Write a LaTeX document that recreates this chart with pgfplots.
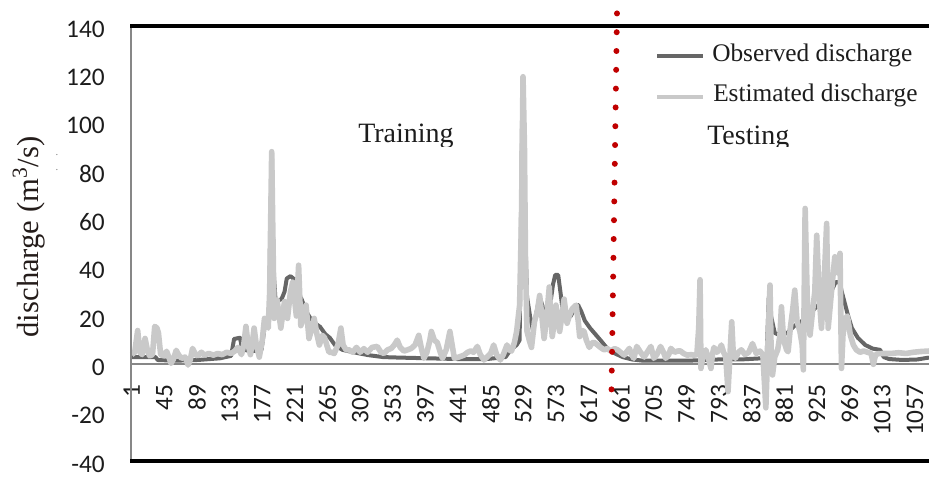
\documentclass[border=0pt]{standalone}
\usepackage{fontspec}
\setmainfont{Liberation Serif}
\newfontfamily\calibri{Carlito}
\usepackage{pgfplots}
\usepackage{pgfplotstable}
\pgfplotsset{compat=1.18}

\definecolor{obsgray}{RGB}{102,102,102}
\definecolor{estgray}{RGB}{201,201,201}
\definecolor{axgray}{RGB}{135,135,135}
\definecolor{divred}{RGB}{192,0,0}
\definecolor{labtext}{RGB}{28,28,28}
\definecolor{ylabcol}{RGB}{36,28,26}

% observed discharge (m^3/s) against day index
\pgfplotstableread{
x y
1 3
33 3
36 1.8
60 1.5
90 1.8
120 2.5
135 3.5
139 10.5
147 11
150 6
165 5.5
176 6
180 15
186 18
188 60
190 88
192 40
195 26
203 27
207 30
210 35.5
215 36.5
221 35
224 30
230 27
236 22
242 19
248 17
255 15.5
262 12.5
268 11
275 8
285 6
300 5
320 3.8
340 3
360 2.8
400 2.5
440 2.2
480 2.2
505 3
512 6
520 8
524 10
528 119
531 60
534 28
538 20
542 14
547 22
551 28
555 24
559 16
564 22
569 33
572 37
576 37
579 30
583 20
588 19
593 20
598 23
603 24.5
607 22
612 18
619 15
626 12.5
633 10
641 7
649 5
656 4
663 3
676 2
691 1.5
751 1.5
791 2
821 2
851 2.5
857 3
860 28
863 20
868 13
875 12
885 13
895 16
905 18
915 21
925 24
935 27
944 30
950 34
955 34
961 27
967 20
972 15
980 11
990 8
1000 6.5
1010 6
1015 3
1022 2.2
1040 1.8
1060 2
1076 2.8
}\observed

% estimated discharge (m^3/s) against day index
\pgfplotstableread{
x y
1 4
5 5
9 14
12 5
15 4
19 10.7
22 6
25 3.5
29 4
32 15.7
35 15
37 13
40 4
44 3.5
48 5.4
51 3
54 0.4
57 2
61 5.8
64 4
68 2.5
73 3
77 -0.3
80 2
83 6.6
87 4
90 3.5
95 5
99 3.8
105 4.5
111 3.8
117 4.5
123 4
129 5
135 4.5
140 5.5
144 7
149 4
152 8
155 15.7
158 8
161 4
164 10
166 15
169 8
173 3
177 10
180 19
183 16
185 15
187 30
189.7 88
191 60
193 19
197 26.6
202 15
207 26
211 19
215 30
218 34
223 20
226 41
229 16
233 20
236 24.5
240 10.7
244 15
247 19
251 12
254 8
258 12
261 11
264 8
267 5
270 5
274 4.5
279 8
283 15
286 8
290 6
294 6
299 5
304 7
309 5
314 6.5
319 5
325 7
332 7.4
337 5
341 4.5
346 6
351 6.6
355 8
359 10
363 7
368 5.5
373 6
378 6.6
383 8
388 12
392 6
395 2.5
399 5
403 10
405 13.6
409 10
413 9
417 5
420 2.5
425 6
430 13.6
433 8
436 2.5
442 3
449 3.8
454 5
458 5.5
462 5
467 7.4
471 4
476 1.8
480 3
485 4.5
489 8
493 4
498 1.8
502 4
507 8
510 6
513 5.5
517 9
520 13.6
524 24.5
526.5 60
528.6 119
530.5 90
532 40
534 13.6
537 10
540 7
544 17.6
548 22
551 28.5
554 20
557 10.7
560 18
564 32
566 20
568 11.5
571 18
573 24.5
576 18
578 13.6
581 20
584 27
586 22
588 17
591 20
595 23
600 24.5
603 18
605 11.5
608 14
611 13.6
614 10
618 7
622 9
625 9
629 8
633 7
638 6
642 6.5
647 5.5
652 6.5
656 6
660 5
665 3.8
668 5
672 6.6
675 4
678 2.5
682 7.4
687 5
692 3
696 5
701 7.4
705 2.5
709 4
714 7.4
718 5
721 2.5
725 4
728 6.6
733 5
737 5.5
741 5.5
745 4.5
750 3.8
755 4
759 3.8
763 4
765.5 15
767.3 35
768.5 -1.7
771 3
775 6
779 2
782 -1.7
784 4
786 7
790 5
793 6
796 8
799 5
802 3
805 -11.3
810 17.6
812 5
815 2.5
819 5
823 6
828 4
833 5
838 8.6
843 4.5
848 5.5
852 4
856 -18
859 10
861.6 32.8
863 8
865 -4.4
868 3
872 6
875 12
877 23.8
880 10
884 6
886 5.2
889 15
892 22
895 30.7
898 18
902 13.5
905 8
906.6 -2.3
909 64.5
912 25
915.6 12.1
919 22
922 30
924.6 53.4
928 28
931 14.9
934 30
938 58.3
940 14.9
943 25
946 35
949 44.5
952 38
956 45.9
958 -1.7
960 12
963 19
966 20
970 12
974 8
978 6
983 5
988 5.5
993 5
998 4.5
1001 0
1004 4
1008 4.4
1015 4.5
1025 4.5
1035 4.8
1045 4.5
1055 5
1065 5.3
1076 5.5
}\estimated

\begin{document}
\begin{tikzpicture}
\begin{axis}[
  at={(0,0)}, anchor=south west,
  scale only axis, width=598.5pt, height=326.25pt,
  xmin=0, xmax=1076, ymin=-40, ymax=140,
  axis x line*=middle, axis y line*=left,
  axis line style={draw=axgray, line width=1.5pt},
  hide obscured x ticks=false, hide obscured y ticks=false,
  major tick length=0pt,
  xtick={1,45,...,1057},
  xticklabels={1,45,89,133,177,221,265,309,353,397,441,485,529,573,617,661,705,749,793,837,881,925,969,1013,1057},
  ytick={-40,-20,...,140},
  yticklabels={-40,-20,0,20,40,60,80,100,120,140},
  ticklabel style={font=\calibri\fontsize{19}{20}\selectfont, text=labtext},
  xticklabel style={rotate=90, anchor=east, inner sep=0pt},
  xticklabel shift=15pt,
  yticklabel style={anchor=east, inner sep=0pt, xshift=-19.5pt, yshift=-2.4pt},
  clip=false,
]
\addplot[obsgray, line width=3pt, line join=round] table {\observed};
\addplot[estgray, line width=4.2pt, line join=round] table {\estimated};

% split between training and testing periods
\draw[divred, line width=4.5pt, line cap=round, dash pattern=on 0pt off 14.1pt]
  (axis cs:655.3,145.2) -- (axis cs:647.9,-10.5);
\end{axis}

% frame: grey value axis on the left, black rules at top and bottom
\fill[axgray] (-0.9pt,-1pt) rectangle (0.9pt,326.25pt);
\fill[black] (-0.9pt,325.1pt) rectangle (598.5pt,327.4pt);
\fill[black] (-0.9pt,-1.15pt) rectangle (598.5pt,1.15pt);

% legend
\draw[obsgray, line width=3.5pt] (394.5pt,303.75pt) -- (429pt,303.75pt);
\node[anchor=base west, inner sep=0pt, text=labtext, font=\fontsize{19}{20}\selectfont]
  at (435.75pt,299.25pt) {Observed discharge};
\draw[estgray, line width=3.5pt] (394.5pt,273pt) -- (429pt,273pt);
\node[anchor=base west, inner sep=0pt, text=labtext, font=\fontsize{19}{20}\selectfont]
  at (436.5pt,269.8pt) {Estimated discharge};

% period labels
\begin{scope}
\clip (0pt,235.5pt) rectangle (598.5pt,300pt);
\node[anchor=base west, inner sep=0pt, text=labtext, font=\fontsize{21}{22}\selectfont]
  at (170.25pt,238.5pt) {Training};
\node[anchor=base west, inner sep=0pt, text=labtext, font=\fontsize{21}{22}\selectfont]
  at (432pt,237pt) {Testing};
\end{scope}

% y axis title
\node[rotate=90, inner sep=0pt, text=ylabcol, font=\fontsize{23}{24}\selectfont]
  at (-76.5pt,168pt) {discharge (m\textsuperscript{3}/s)};
\node[inner sep=0pt, text=gray, font=\fontsize{8}{8}\selectfont] at (-55.5pt,229.5pt) {.};
\node[inner sep=0pt, text=gray, font=\fontsize{8}{8}\selectfont] at (-55.5pt,218.25pt) {.};

\pgfresetboundingbox
\useasboundingbox (-98.25pt,-12pt) rectangle (598.5pt,345.75pt);
\end{tikzpicture}
\end{document}
